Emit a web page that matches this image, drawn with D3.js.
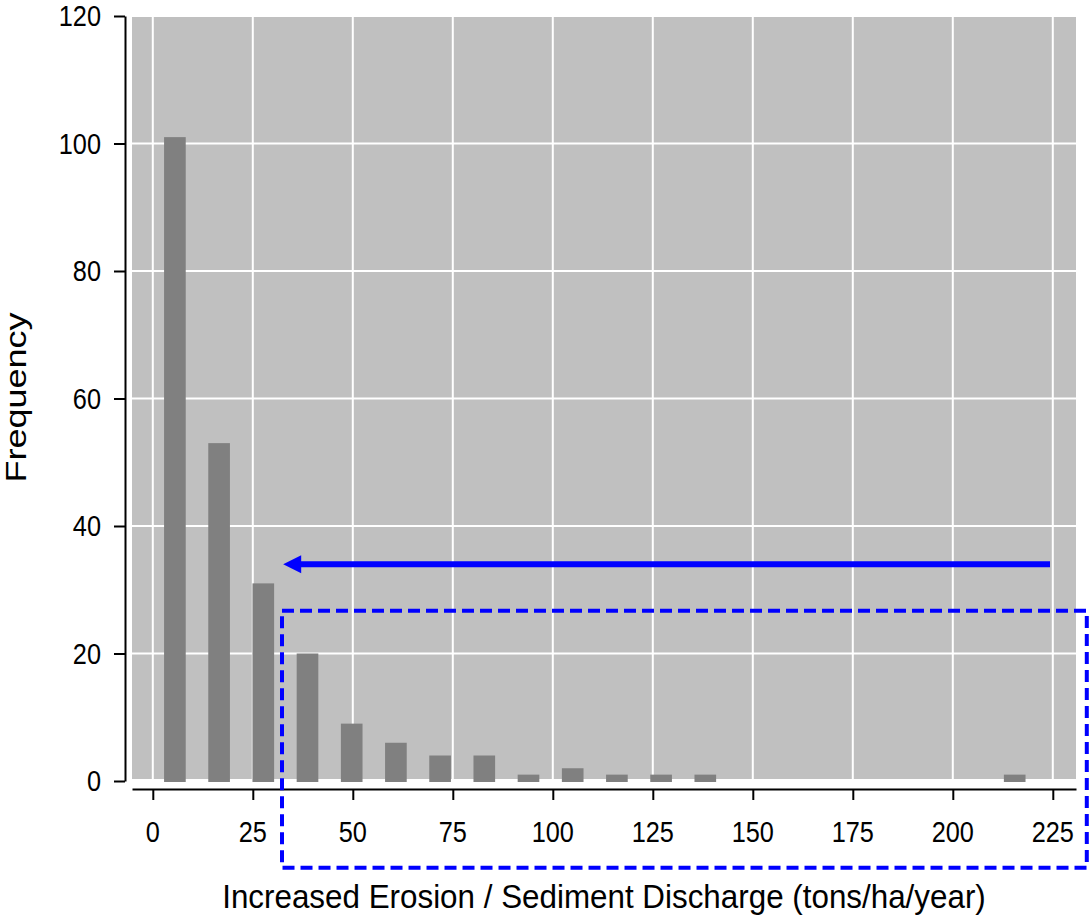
<!DOCTYPE html>
<html>
<head>
<meta charset="utf-8">
<script src="https://cdn.jsdelivr.net/npm/d3@7"></script>
<style>
  body { margin: 0; background: #fff; }
  text { font-family: "Liberation Sans", Arial, sans-serif; fill: #000; }
</style>
</head>
<body>
<div id="content"></div>
<script>
(function(d3) {

   var binWidth = 11.05; // tons/ha/year per bin
   var binStarts = [0, 11.05, 22.1, 33.15, 44.2, 55.25, 66.3, 77.35, 88.4, 99.45,
                    110.5, 121.55, 132.6, 143.65, 154.7, 165.75, 176.8, 187.85, 198.9, 209.95];
   var counts = [101, 53, 31, 20, 9, 6, 4, 4, 1, 2, 1, 1, 1, 0, 0, 0, 0, 0, 0, 1];

   var xTicks = [0, 25, 50, 75, 100, 125, 150, 175, 200, 225];
   var yTicks = [0, 20, 40, 60, 80, 100, 120];

   // annotation, in data units
   var arrowFrom = [224.3, 34];
   var arrowTo = [32.6, 34];
   var boxX = [32.3, 233.5];
   var boxY = [26.7, -13.6];

   var win_width = 1089;
   var win_height = 919;

   var svg = d3.select("#content")
            .append("svg")
            .attr("width", win_width)
            .attr("height", win_height);

   // the text in the picture is stretched; measure and fit it
   function fitScale(str, size, inkWidth, capHeight) {
      var t = svg.append("text").style("font-size", size + "px").text(str);
      var w = t.node().getBBox().width;
      t.remove();
      return [inkWidth / (w - 0.06 * size), capHeight / (0.716 * size)];
   }
   var tickSc = fitScale("120", 25, 40.7, 20.7);
   var xlabSc = fitScale("Increased Erosion / Sediment Discharge (tons/ha/year)", 28, 762, 23.3);
   var ylabSc = fitScale("Frequency", 30, 168, 21.7);

   var x = d3.scaleLinear().domain([-5.2, 230.8]).range([132, 1076]);
   var y = d3.scaleLinear().domain([0, 120]).range([781, 16]);

   // panel
   svg.append("rect")
      .attr("x", 132).attr("y", 16)
      .attr("width", 1076 - 132).attr("height", 779 - 16)
      .style("fill", "#c0c0c0");

   // grid
   svg.append("g").selectAll("line").data(xTicks).enter().append("line")
      .attr("x1", function(d) { return x(d); }).attr("x2", function(d) { return x(d); })
      .attr("y1", 16).attr("y2", 779)
      .style("stroke", "#fff").style("stroke-width", 2);
   svg.append("g").selectAll("line").data(yTicks).enter().append("line")
      .attr("x1", 132).attr("x2", 1076)
      .attr("y1", function(d) { return y(d); }).attr("y2", function(d) { return y(d); })
      .style("stroke", "#fff").style("stroke-width", 2);

   // bars
   var bins = binStarts.map(function(s, i) { return {x0: s, n: counts[i]}; })
                       .filter(function(b) { return b.n > 0; });
   svg.append("g").selectAll("rect").data(bins).enter().append("rect")
      .attr("x", function(d) { return x(d.x0 + binWidth * 0.255); })
      .attr("width", x(binWidth * 0.49) - x(0))
      .attr("y", function(d) { return y(d.n); })
      .attr("height", function(d) { return y(0) - y(d.n) + 1; })
      .style("fill", "#808080");

   // axes
   var yAxis = svg.append("g")
      .attr("transform", "translate(125,0)")
      .call(d3.axisLeft(y).tickValues(yTicks).tickSize(11).tickSizeOuter(0));
   var xAxis = svg.append("g")
      .attr("transform", "translate(0,789)")
      .call(d3.axisBottom(x).tickValues(xTicks).tickSize(11).tickSizeOuter(0));

   [yAxis, xAxis].forEach(function(a) {
      a.selectAll("path, line").style("stroke", "#000").style("stroke-width", 2);
      a.selectAll("text").remove();
   });

   svg.append("g").selectAll("text").data(yTicks).enter().append("text")
      .attr("transform", function(d) {
         return "translate(101," + y(d) + ") scale(" + tickSc[0] + "," + tickSc[1] + ")"; })
      .attr("dy", "0.36em")
      .attr("text-anchor", "end")
      .style("font-size", "25px")
      .text(function(d) { return d; });

   svg.append("g").selectAll("text").data(xTicks).enter().append("text")
      .attr("transform", function(d) {
         return "translate(" + x(d) + ",842) scale(" + tickSc[0] + "," + tickSc[1] + ")"; })
      .attr("text-anchor", "middle")
      .style("font-size", "25px")
      .text(function(d) { return d; });

   svg.append("text")
      .attr("transform", "translate(604,908) scale(" + xlabSc[0] + "," + xlabSc[1] + ")")
      .attr("text-anchor", "middle")
      .style("font-size", "28px")
      .text("Increased Erosion / Sediment Discharge (tons/ha/year)");

   svg.append("text")
      .attr("transform", "translate(26,397.5) scale(" + ylabSc[1] + "," + ylabSc[0] + ") rotate(-90)")
      .attr("text-anchor", "middle")
      .style("font-size", "30px")
      .text("Frequency");

   // arrow
   var tipX = x(arrowTo[0]), ay = y(arrowTo[1]);
   svg.append("line")
      .attr("x1", x(arrowFrom[0])).attr("x2", tipX + 16)
      .attr("y1", ay).attr("y2", ay)
      .style("stroke", "#0000ff").style("stroke-width", 6);
   svg.append("path")
      .attr("d", "M" + tipX + "," + ay + "L" + (tipX + 18) + "," + (ay - 9) +
                 "L" + (tipX + 18) + "," + (ay + 9) + "Z")
      .style("fill", "#0000ff");

   // dashed box
   svg.append("rect")
      .attr("x", x(boxX[0])).attr("y", y(boxY[0]))
      .attr("width", x(boxX[1]) - x(boxX[0]))
      .attr("height", y(boxY[1]) - y(boxY[0]))
      .style("fill", "none")
      .style("stroke", "#0000ff").style("stroke-width", 4)
      .style("stroke-dasharray", "12,6");

})(window.d3);
</script>
</body>
</html>
